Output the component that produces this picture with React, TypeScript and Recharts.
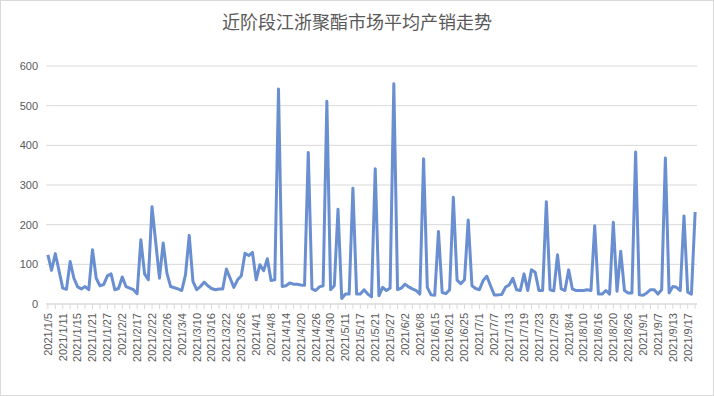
import React from 'react';
import { LineChart, Line, XAxis, YAxis, CartesianGrid } from 'recharts';

// trading days, one label every 4th entry
const dates = [
  '2021/1/5', '2021/1/6', '2021/1/7', '2021/1/8',
  '2021/1/11', '2021/1/12', '2021/1/13', '2021/1/14',
  '2021/1/15', '2021/1/18', '2021/1/19', '2021/1/20',
  '2021/1/21', '2021/1/22', '2021/1/25', '2021/1/26',
  '2021/1/27', '2021/1/28', '2021/1/29', '2021/2/1',
  '2021/2/2', '2021/2/3', '2021/2/4', '2021/2/5',
  '2021/2/17', '2021/2/18', '2021/2/19', '2021/2/20',
  '2021/2/22', '2021/2/23', '2021/2/24', '2021/2/25',
  '2021/2/26', '2021/3/1', '2021/3/2', '2021/3/3',
  '2021/3/4', '2021/3/5', '2021/3/8', '2021/3/9',
  '2021/3/10', '2021/3/11', '2021/3/12', '2021/3/15',
  '2021/3/16', '2021/3/17', '2021/3/18', '2021/3/19',
  '2021/3/22', '2021/3/23', '2021/3/24', '2021/3/25',
  '2021/3/26', '2021/3/29', '2021/3/30', '2021/3/31',
  '2021/4/1', '2021/4/2', '2021/4/6', '2021/4/7',
  '2021/4/8', '2021/4/9', '2021/4/12', '2021/4/13',
  '2021/4/14', '2021/4/15', '2021/4/16', '2021/4/19',
  '2021/4/20', '2021/4/21', '2021/4/22', '2021/4/23',
  '2021/4/26', '2021/4/27', '2021/4/28', '2021/4/29',
  '2021/4/30', '2021/5/6', '2021/5/7', '2021/5/10',
  '2021/5/11', '2021/5/12', '2021/5/13', '2021/5/14',
  '2021/5/17', '2021/5/18', '2021/5/19', '2021/5/20',
  '2021/5/21', '2021/5/24', '2021/5/25', '2021/5/26',
  '2021/5/27', '2021/5/28', '2021/5/31', '2021/6/1',
  '2021/6/2', '2021/6/3', '2021/6/4', '2021/6/7',
  '2021/6/8', '2021/6/9', '2021/6/10', '2021/6/11',
  '2021/6/15', '2021/6/16', '2021/6/17', '2021/6/18',
  '2021/6/21', '2021/6/22', '2021/6/23', '2021/6/24',
  '2021/6/25', '2021/6/28', '2021/6/29', '2021/6/30',
  '2021/7/1', '2021/7/2', '2021/7/5', '2021/7/6',
  '2021/7/7', '2021/7/8', '2021/7/9', '2021/7/12',
  '2021/7/13', '2021/7/14', '2021/7/15', '2021/7/16',
  '2021/7/19', '2021/7/20', '2021/7/21', '2021/7/22',
  '2021/7/23', '2021/7/26', '2021/7/27', '2021/7/28',
  '2021/7/29', '2021/7/30', '2021/8/2', '2021/8/3',
  '2021/8/4', '2021/8/5', '2021/8/6', '2021/8/9',
  '2021/8/10', '2021/8/11', '2021/8/12', '2021/8/13',
  '2021/8/16', '2021/8/17', '2021/8/18', '2021/8/19',
  '2021/8/20', '2021/8/23', '2021/8/24', '2021/8/25',
  '2021/8/26', '2021/8/27', '2021/8/30', '2021/8/31',
  '2021/9/1', '2021/9/2', '2021/9/3', '2021/9/6',
  '2021/9/7', '2021/9/8', '2021/9/9', '2021/9/10',
  '2021/9/13', '2021/9/14', '2021/9/15', '2021/9/16',
  '2021/9/17', '2021/9/18', '2021/9/22',
];

// 平均产销 (%)
const sales = [
  124, 85, 127, 84, 40, 37, 107, 65, 43, 38,
  44, 36, 137, 65, 46, 49, 71, 76, 36, 39,
  68, 44, 40, 36, 26, 162, 76, 61, 245, 155,
  65, 154, 78, 44, 41, 38, 34, 74, 173, 57,
  36, 44, 55, 46, 39, 36, 38, 38, 88, 65,
  42, 61, 71, 128, 122, 130, 61, 99, 84, 114,
  59, 61, 542, 44, 46, 53, 50, 50, 48, 47,
  382, 38, 34, 43, 46, 511, 36, 46, 239, 14,
  25, 25, 292, 25, 25, 36, 25, 18, 341, 21,
  42, 34, 40, 555, 36, 40, 50, 43, 38, 34,
  25, 366, 42, 23, 22, 183, 29, 26, 36, 269,
  60, 51, 61, 212, 46, 39, 36, 59, 70, 46,
  23, 23, 24, 42, 48, 65, 36, 34, 76, 34,
  86, 80, 34, 34, 258, 36, 33, 124, 38, 34,
  86, 38, 34, 34, 34, 36, 34, 197, 25, 25,
  34, 25, 206, 32, 133, 34, 28, 28, 383, 23,
  22, 28, 36, 36, 25, 36, 368, 28, 44, 42,
  34, 222, 30, 25, 232,
];

const yTicks = [0, 100, 200, 300, 400, 500, 600];

const TEXT = '#595959';
const GRID = '#d9d9d9';

function DateTick({ x, y, payload }: any) {
  const i = dates.indexOf(payload.value);
  if (i % 4 !== 0) return <g />;
  return (
    <text
      x={x}
      y={y}
      dy="0.35em"
      transform={`rotate(-90, ${x}, ${y})`}
      textAnchor="end"
      fill={TEXT}
      fontSize={11}
      fontFamily="Liberation Sans, Arial, sans-serif"
    >
      {payload.value}
    </text>
  );
}

export default function App() {
  const data = dates.map((d, i) => ({ date: d, value: sales[i] }));

  return (
    <div style={{ position: 'absolute', left: 0, top: 0, width: 714, height: 396, background: '#fff' }}>
      <div
        style={{
          position: 'absolute', left: 0, top: 9, width: 714, textAlign: 'center',
          fontFamily: '"Noto Sans CJK SC", sans-serif', fontSize: 18, lineHeight: '24px', color: TEXT,
        }}
      >
        近阶段江浙聚酯市场平均产销走势
      </div>
      <LineChart width={714} height={396} data={data} margin={{ top: 66, right: 17, bottom: 32, left: 10 }}>
        <CartesianGrid vertical={false} stroke={GRID} />
        <XAxis
          dataKey="date"
          scale="band"
          interval={1}
          height={60}
          tick={<DateTick />}
          tickSize={5}
          tickMargin={4}
          axisLine={{ stroke: GRID }}
          tickLine={{ stroke: GRID }}
        />
        <YAxis
          width={36}
          domain={[0, 600]}
          ticks={yTicks}
          axisLine={false}
          tickLine={false}
          tick={{ fill: TEXT, fontSize: 11, fontFamily: 'Liberation Sans, Arial, sans-serif' }}
        />
        <Line
          type="linear"
          dataKey="value"
          stroke="#6a8fd0"
          strokeWidth={3}
          strokeLinejoin="round"
          dot={false}
          isAnimationActive={false}
        />
      </LineChart>
      <div style={{ position: 'absolute', inset: 0, border: `1px solid ${GRID}`, pointerEvents: 'none' }} />
    </div>
  );
}
